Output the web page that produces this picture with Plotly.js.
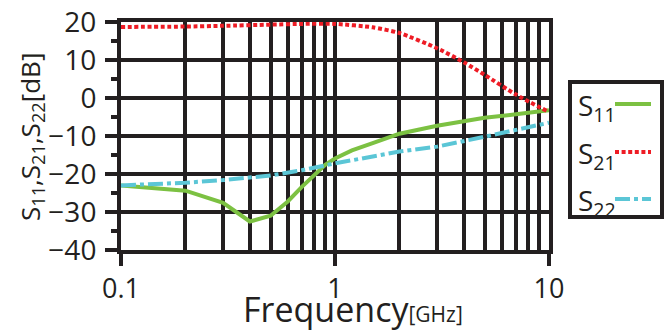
<!DOCTYPE html>
<html>
<head>
<meta charset="utf-8">
<script src="https://cdn.plot.ly/plotly-3.0.1.min.js"></script>
<style>html,body{margin:0;padding:0;background:#fff;}#chart{width:672px;height:331px;}</style>
</head>
<body>
<div id="chart"></div>
<script>
// ---- data ----
var freqS11 = [0.1, 0.2, 0.3, 0.4, 0.5, 0.6, 0.7, 0.8, 0.9, 1.0, 1.2, 1.5, 2, 3, 4, 5, 7, 10];
var s11     = [-23, -24.4, -27.6, -32.5, -31, -27.3, -23.4, -20.3, -17.6, -15.9, -13.8, -11.9, -9.4, -7.3, -6.0, -5.2, -4.3, -3.2];

var freqS21 = [0.1, 0.2, 0.3, 0.5, 0.7, 1.0, 1.5, 2, 3, 4, 5, 7, 10];
var s21     = [18.7, 18.8, 19.0, 19.3, 19.5, 19.5, 18.6, 17.1, 13.1, 9.4, 6.1, 0.9, -3.7];

var freqS22 = [0.1, 0.2, 0.3, 0.5, 0.7, 1.0, 2, 3, 5, 7, 10];
var s22     = [-23, -22.3, -21.6, -20.4, -19.0, -17.2, -14.1, -12.8, -10.2, -8.5, -6.5];

var xTickVals = [0.1, 1, 10];
var xTickText = ['0.1', '1', '10'];
var seriesNames = ['S<sub>11</sub>', 'S<sub>21</sub>', 'S<sub>22</sub>'];

// ---- styles ----
var INK = '#231f20';
var GREEN = '#7cc142';
var RED = '#ee1c25';
var CYAN = '#5bc6d6';
var FONT = 'Open Sans, Noto Sans, sans-serif';

var W = 672, H = 331;
var M = {l: 121, r: 123, t: 22, b: 81};
var PW = W - M.l - M.r, PH = H - M.t - M.b;
function px(x) { return (x - M.l) / PW; }
function py(y) { return (H - M.b - y) / PH; }

var lineStyles = [
  {color: GREEN, width: 4, dash: 'solid'},
  {color: RED, width: 4, dash: '4px,2.6px'},
  {color: CYAN, width: 4, dash: '15px,4px,4px,4px'}
];

var traces = [
  {x: freqS11, y: s11, name: seriesNames[0], mode: 'lines', line: lineStyles[0]},
  {x: freqS21, y: s21, name: seriesNames[1], mode: 'lines', line: Object.assign({shape: 'spline', smoothing: 0.6}, lineStyles[1])},
  {x: freqS22, y: s22, name: seriesNames[2], mode: 'lines', line: lineStyles[2]}
];

// custom legend (text left, sample right), as in the reference
var shapes = [{
  type: 'rect', xref: 'paper', yref: 'paper',
  x0: px(570), x1: px(662), y0: py(82), y1: py(217),
  line: {color: INK, width: 4}, fillcolor: 'rgba(0,0,0,0)'
}];
var annotations = [];
var legendY = [104, 152, 199];
for (var i = 0; i < 3; i++) {
  shapes.push({
    type: 'line', xref: 'paper', yref: 'paper',
    x0: px(615), x1: px(651), y0: py(legendY[i]), y1: py(legendY[i]),
    line: {color: lineStyles[i].color, width: 4, dash: lineStyles[i].dash}
  });
  annotations.push({
    xref: 'paper', yref: 'paper', x: px(576), y: py(legendY[i] + 3),
    xanchor: 'left', yanchor: 'middle', showarrow: false,
    text: seriesNames[i], font: {family: FONT, size: 28, color: INK}
  });
}
// axis titles
annotations.push({
  xref: 'paper', yref: 'paper', x: px(241), y: py(309),
  xanchor: 'left', yanchor: 'middle', showarrow: false,
  text: "Frequency<span style='font-size:21px'>[GHz]</span>",
  font: {family: FONT, size: 34, color: INK}
});
annotations.push({
  xref: 'paper', yref: 'paper', x: px(31), y: py(137),
  xanchor: 'center', yanchor: 'middle', showarrow: false, textangle: -90,
  text: 'S<sub>11</sub>,S<sub>21</sub>,S<sub>22</sub>[dB]',
  font: {family: FONT, size: 26, color: INK}
});

var layout = {
  width: W, height: H,
  margin: M,
  paper_bgcolor: '#fff', plot_bgcolor: '#fff',
  showlegend: false,
  font: {family: FONT, color: INK},
  xaxis: {
    type: 'log', range: [-1, 1],
    tickmode: 'array', tickvals: xTickVals, ticktext: xTickText,
    ticks: 'outside', ticklen: 12, tickwidth: 4, tickcolor: INK,
    showgrid: true, gridcolor: INK, gridwidth: 4,
    minor: {dtick: 'D1', showgrid: true, gridcolor: INK, gridwidth: 4, ticks: ''},
    showline: true, linecolor: INK, linewidth: 4, mirror: true,
    zeroline: false,
    tickfont: {family: FONT, size: 27, color: INK}
  },
  yaxis: {
    range: [-40, 20], dtick: 10, tick0: 0,
    ticks: 'outside', ticklen: 12, tickwidth: 4, tickcolor: INK,
    minor: {dtick: 5, ticks: 'outside', ticklen: 6, tickwidth: 4, tickcolor: INK, showgrid: false},
    showgrid: true, gridcolor: INK, gridwidth: 4,
    showline: true, linecolor: INK, linewidth: 4, mirror: true,
    zeroline: false,
    ticklabelstandoff: 3,
    tickfont: {family: FONT, size: 28, color: INK}
  },
  shapes: shapes,
  annotations: annotations
};

Plotly.newPlot('chart', traces, layout, {displayModeBar: false, staticPlot: true});
</script>
</body>
</html>
